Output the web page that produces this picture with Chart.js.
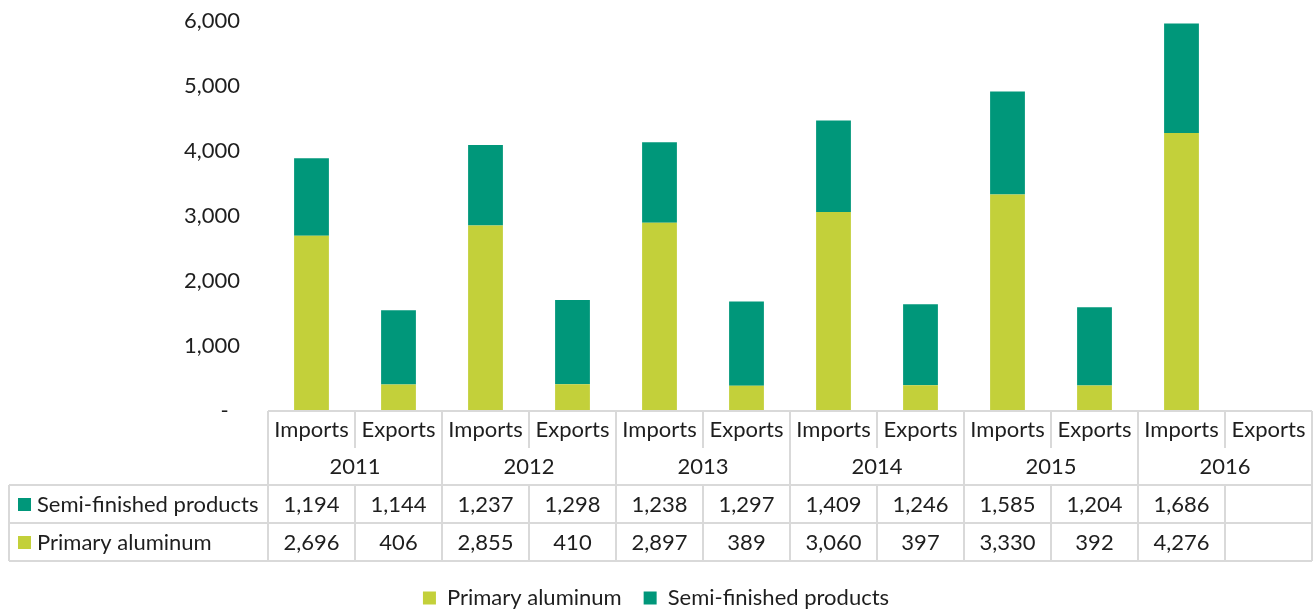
<!DOCTYPE html>
<html>
<head>
<meta charset="utf-8">
<script src="https://cdn.jsdelivr.net/npm/chart.js@4"></script>
<style>
    body { margin: 0; background: #fff; }
    #wrap { width: 1316px; height: 609px; position: relative; }
</style>
</head>
<body>
<div id="wrap"><canvas id="chart"></canvas></div>
<script>
const years = ['2011', '2012', '2013', '2014', '2015', '2016'];
const flows = ['Imports', 'Exports'];
const primaryAluminum = [2696, 406, 2855, 410, 2897, 389, 3060, 397, 3330, 392, 4276, null];
const semiFinished = [1194, 1144, 1237, 1298, 1238, 1297, 1409, 1246, 1585, 1204, 1686, null];
const yTicks = [0, 1000, 2000, 3000, 4000, 5000, 6000];

const labels = [];
years.forEach(y => flows.forEach(f => labels.push(f + ' ' + y)));

const LIME = '#c3d03a';
const GREEN = '#00977a';
const FONT = 'Lato';
const TEXT = '#1e1e1e';
const LINE = '#d9d9d9';

function fmt(v) {
    return v == null ? '' : v.toLocaleString('en-US');
}

// draws the Excel style data table under the plot, columns taken from the x scale
const dataTable = {
    id: 'dataTable',
    afterDraw(chart) {
        const ctx = chart.ctx;
        const x = chart.scales.x;
        const area = chart.chartArea;
        const step = x.width / labels.length;
        const top = area.bottom;
        const rows = [top, top + 37, top + 74, top + 112, top + 150];
        const tableLeft = 9;
        const edge = i => x.getPixelForValue(0) - step / 2 + i * step;

        ctx.save();
        ctx.strokeStyle = LINE;
        ctx.lineWidth = 2;
        ctx.beginPath();
        ctx.moveTo(area.left, rows[0]); ctx.lineTo(area.right, rows[0]);
        for (let r = 2; r < rows.length; r++) {
            ctx.moveTo(tableLeft, rows[r]); ctx.lineTo(area.right, rows[r]);
        }
        ctx.moveTo(tableLeft, rows[2]); ctx.lineTo(tableLeft, rows[4]);
        for (let i = 0; i <= labels.length; i++) {
            const px = edge(i);
            ctx.moveTo(px, rows[0]);
            ctx.lineTo(px, i % 2 === 0 ? rows[4] : rows[1]);
            if (i % 2 === 1) {
                ctx.moveTo(px, rows[2]); ctx.lineTo(px, rows[4]);
            }
        }
        ctx.stroke();

        ctx.fillStyle = TEXT;
        ctx.font = '22px ' + FONT;
        ctx.textAlign = 'center';
        ctx.textBaseline = 'middle';
        labels.forEach((l, i) => {
            const cx = x.getPixelForValue(i);
            ctx.fillText(flows[i % 2], cx, (rows[0] + rows[1]) / 2);
            ctx.fillText(fmt(semiFinished[i]), cx, (rows[2] + rows[3]) / 2 + 1);
            ctx.fillText(fmt(primaryAluminum[i]), cx, (rows[3] + rows[4]) / 2 + 1);
        });
        years.forEach((y, i) => {
            const cx = (edge(i * 2) + edge(i * 2 + 2)) / 2;
            ctx.fillText(y, cx, (rows[1] + rows[2]) / 2);
        });

        const series = [[GREEN, 'Semi-finished products'], [LIME, 'Primary aluminum']];
        ctx.textAlign = 'left';
        series.forEach((s, r) => {
            const cy = (rows[r + 2] + rows[r + 3]) / 2;
            ctx.fillStyle = s[0];
            ctx.fillRect(18, cy - 6, 13, 13);
            ctx.fillStyle = TEXT;
            ctx.fillText(s[1], 37, cy + 1);
        });
        ctx.restore();
    }
};

new Chart(document.getElementById('chart'), {
    type: 'bar',
    data: {
        labels: labels,
        datasets: [{
            label: 'Primary aluminum',
            data: primaryAluminum,
            backgroundColor: LIME
        }, {
            label: 'Semi-finished products',
            data: semiFinished,
            backgroundColor: GREEN
        }]
    },
    options: {
        responsive: true,
        maintainAspectRatio: false,
        animation: false,
        categoryPercentage: 1,
        barPercentage: 0.4,
        layout: { padding: { top: 21, right: 4, left: 0, bottom: -10 } },
        plugins: {
            tooltip: { enabled: false },
            legend: {
                position: 'bottom',
                labels: {
                    font: { family: FONT, size: 22 },
                    color: TEXT,
                    boxWidth: 13,
                    boxHeight: 13,
                    padding: 22
                }
            }
        },
        scales: {
            x: {
                stacked: true,
                grid: { display: false },
                border: { display: false },
                ticks: { display: false },
                afterFit: s => { s.height = 154; }
            },
            y: {
                stacked: true,
                min: 0,
                max: 6000,
                grid: { display: false },
                border: { display: false },
                afterBuildTicks: s => { s.ticks = yTicks.map(v => ({ value: v })); },
                afterFit: s => {
                    s.width = 268;
                    s.paddingTop = 0;
                    s.paddingBottom = 0;
                },
                ticks: {
                    padding: 20,
                    color: TEXT,
                    font: { family: FONT, size: 22 },
                    callback: v => v === 0 ? '-  ' : v.toLocaleString('en-US')
                }
            }
        }
    },
    plugins: [dataTable]
});
</script>
</body>
</html>
